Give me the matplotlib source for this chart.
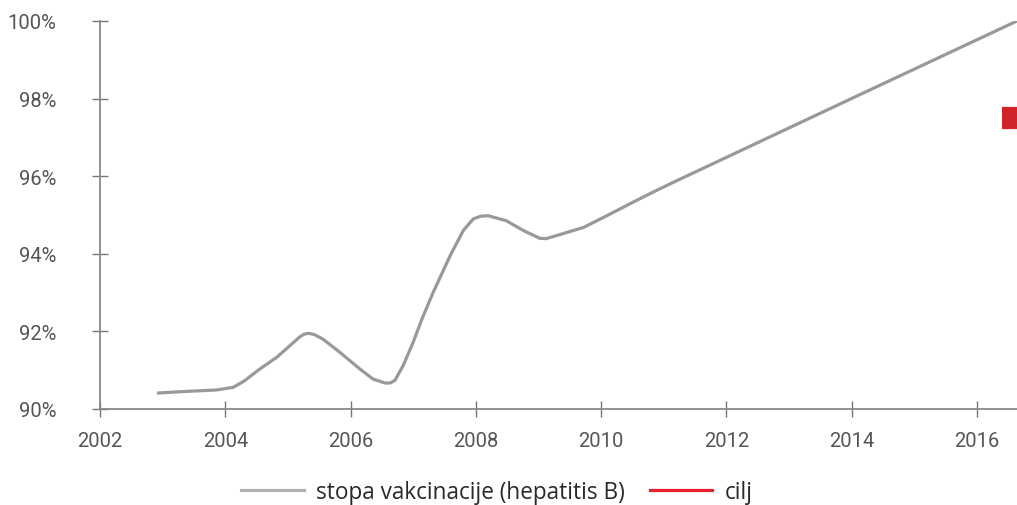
import matplotlib
matplotlib.use("Agg")
import matplotlib.pyplot as plt
from matplotlib.lines import Line2D

# ---- data ----
years = [2002.91, 2003.33, 2003.86, 2004.13, 2004.31, 2004.55, 2004.82, 2005.03, 2005.19,
         2005.26, 2005.33, 2005.42, 2005.56, 2005.83, 2006.15, 2006.36, 2006.55, 2006.63,
         2006.71, 2006.84, 2007.00,
         2007.14, 2007.32, 2007.59, 2007.80, 2007.96, 2008.08, 2008.20, 2008.49, 2008.76,
         2009.02, 2009.12, 2009.29, 2009.72, 2010.09, 2010.51, 2010.83, 2011.15, 2013.97, 2016.64]
rate = [90.41, 90.45, 90.49, 90.56, 90.73, 91.03, 91.33, 91.63, 91.86,
        91.93, 91.95, 91.92, 91.80, 91.46, 91.03, 90.77, 90.67, 90.67,
        90.74, 91.12, 91.72,
        92.32, 93.01, 93.95, 94.60, 94.90, 94.97, 94.98, 94.85, 94.60,
        94.40, 94.39, 94.47, 94.68, 94.98, 95.33, 95.59, 95.84, 97.98, 100.0]
target_years = [2016.40, 2017.00]
target_value = [97.5, 97.5]

xticks = [2002, 2004, 2006, 2008, 2010, 2012, 2014, 2016]
yticks = [90, 92, 94, 96, 98, 100]
ytick_labels = ["90%", "92%", "94%", "96%", "98%", "100%"]
series_label = "stopa vakcinacije (hepatitis B)"
target_label = "cilj"

W, H = 1017, 506
fig = plt.figure(figsize=(W / 100, H / 100), dpi=100)
ax = fig.add_axes([100 / W, 1 - 410 / H, (1017 - 100) / W, (410 - 22) / H])

gray = "#999999"
ax.plot(years, rate, color=gray, lw=2.3, solid_capstyle="butt", solid_joinstyle="round")
ax.plot(target_years, target_value, color="#d1232a", lw=16, solid_capstyle="butt", clip_on=True)

ax.set_xlim(2002, 2016.64)
ax.set_ylim(90, 100)
ax.set_xticks(xticks)
ax.set_xticklabels([str(x) for x in xticks])
ax.set_yticks(yticks)
ax.set_yticklabels(ytick_labels)

for s in ["top", "right"]:
    ax.spines[s].set_visible(False)
for s in ["left", "bottom"]:
    ax.spines[s].set_color("#888888")
    ax.spines[s].set_linewidth(1.3)

ax.tick_params(axis="both", direction="inout", length=11, width=1.0, color="#777777",
               labelcolor="#555555", labelsize=14.5)
ax.tick_params(axis="y", pad=26)
ax.tick_params(axis="x", pad=10)
for lab in ax.get_xticklabels() + ax.get_yticklabels():
    lab.set_fontfamily("Roboto")

handles = [Line2D([], [], color="#b0b0b0", lw=2.3),
           Line2D([], [], color="#e8202a", lw=2.3)]
fig.legend(handles, [series_label, target_label], loc="center", ncol=2,
           bbox_to_anchor=(497 / W, 1 - 493 / H), frameon=False,
           prop={"family": "Open Sans", "size": 16.3}, labelcolor="#2a2a2a",
           handlelength=2.75, handletextpad=0.55, columnspacing=1.1)

fig.savefig("out.png", dpi=100)
